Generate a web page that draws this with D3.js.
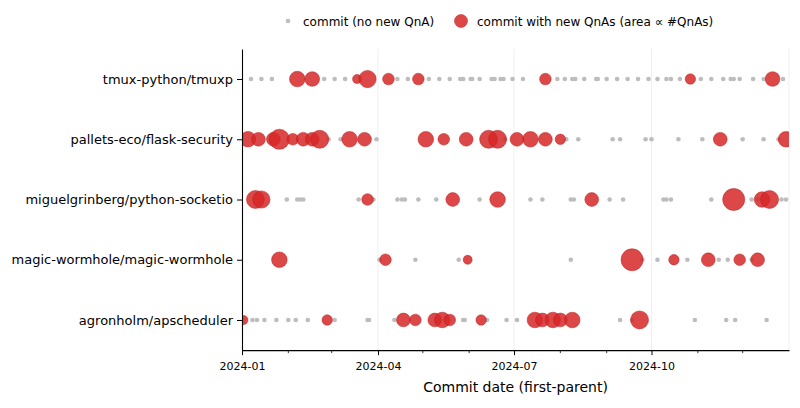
<!DOCTYPE html>
<html>
<head>
<meta charset="utf-8">
<script src="https://cdn.jsdelivr.net/npm/d3@7"></script>
<style>
  body { margin: 0; background: #fff; }
  svg text { font-family: "DejaVu Sans", sans-serif; fill: #000; }
</style>
</head>
<body>
<div class="figure"></div>
<script>
// repos, top to bottom
var repos = [
    "tmux-python/tmuxp",
    "pallets-eco/flask-security",
    "miguelgrinberg/python-socketio",
    "magic-wormhole/magic-wormhole",
    "agronholm/apscheduler"
]

// commits without new QnAs, one list per repo
var plainCommits = [
    ["2024-01-07", "2024-01-14", "2024-01-21", "2024-02-25", "2024-03-03", "2024-03-10",
     "2024-04-14", "2024-04-21", "2024-05-05", "2024-05-12", "2024-05-19", "2024-05-26",
     "2024-05-28", "2024-06-02", "2024-06-03", "2024-06-08", "2024-06-16", "2024-06-18",
     "2024-06-22", "2024-06-24", "2024-06-30", "2024-07-07", "2024-07-30", "2024-08-04",
     "2024-08-09", "2024-08-11", "2024-08-17", "2024-08-25", "2024-08-26", "2024-09-01",
     "2024-09-08", "2024-09-15", "2024-09-22", "2024-09-29", "2024-10-05", "2024-10-11",
     "2024-10-14", "2024-10-20", "2024-11-03", "2024-11-10", "2024-11-18", "2024-11-23",
     "2024-11-25", "2024-11-29", "2024-12-08", "2024-12-15", "2024-12-28"],
    ["2024-02-28", "2024-03-07", "2024-03-31", "2024-06-25", "2024-08-05", "2024-08-13",
     "2024-09-05", "2024-09-10", "2024-09-27", "2024-10-01", "2024-10-19", "2024-11-04",
     "2024-12-01", "2024-12-15", "2024-12-25"],
    ["2024-01-31", "2024-02-07", "2024-02-09", "2024-02-11", "2024-03-19", "2024-03-29",
     "2024-04-14", "2024-04-17", "2024-04-19", "2024-04-28", "2024-05-10", "2024-06-08",
     "2024-07-12", "2024-07-20", "2024-08-08", "2024-08-10", "2024-09-03", "2024-09-12",
     "2024-10-09", "2024-10-11", "2024-10-14", "2024-11-10", "2024-12-07", "2024-12-11",
     "2024-12-27", "2024-12-30"],
    ["2024-04-02", "2024-04-26", "2024-05-25", "2024-08-08", "2024-09-25", "2024-10-05",
     "2024-10-25", "2024-11-15", "2024-11-21", "2024-12-07"],
    ["2024-01-08", "2024-01-11", "2024-01-16", "2024-01-24", "2024-02-01", "2024-02-06",
     "2024-02-14", "2024-03-03", "2024-03-25", "2024-03-26", "2024-04-12", "2024-05-28",
     "2024-05-29", "2024-06-13", "2024-06-26", "2024-07-03", "2024-09-10", "2024-09-18",
     "2024-10-30", "2024-11-20", "2024-11-26", "2024-12-17"]
]

// commits with new QnAs: dates and #QnAs, one list per repo
var qnaDates = [
    ["2024-02-07", "2024-02-17", "2024-03-18", "2024-03-25", "2024-04-08", "2024-04-28",
     "2024-07-22", "2024-10-27", "2024-12-21"],
    ["2024-01-05", "2024-01-12", "2024-01-22", "2024-01-26", "2024-02-04", "2024-02-11",
     "2024-02-17", "2024-02-22", "2024-03-13", "2024-03-23", "2024-05-03", "2024-05-15",
     "2024-05-30", "2024-06-14", "2024-06-20", "2024-07-03", "2024-07-12", "2024-07-22",
     "2024-08-01", "2024-11-16", "2024-12-30"],
    ["2024-01-10", "2024-01-14", "2024-03-25", "2024-05-21", "2024-06-20", "2024-08-22",
     "2024-11-25", "2024-12-14", "2024-12-19"],
    ["2024-01-26", "2024-04-06", "2024-05-31", "2024-09-18", "2024-10-16", "2024-11-08",
     "2024-11-29", "2024-12-11"],
    ["2024-01-02", "2024-02-27", "2024-04-18", "2024-04-26", "2024-05-09", "2024-05-14",
     "2024-05-19", "2024-06-09", "2024-07-15", "2024-07-20", "2024-07-27", "2024-08-01",
     "2024-08-09", "2024-09-23"]
]
var qnaCounts = [
    [9, 8, 3, 11, 5, 5, 5, 4, 8],
    [9, 7, 7, 15, 5, 7, 7, 12, 9, 7, 9, 5, 7, 12, 12, 7, 9, 7, 4, 7, 9],
    [12, 11, 5, 7, 9, 7, 18, 9, 12],
    [9, 5, 3, 18, 4, 7, 5, 7],
    [3, 4, 7, 5, 7, 9, 5, 4, 9, 7, 9, 7, 9, 12]
]

var dateRange = ["2024-01-01", "2025-01-01"]

var parseDate = d3.utcParse("%Y-%m-%d")

var dim = { w: 800, h: 408 }
var margin = { top: 48.9, bottom: 57.9, left: 242, right: 11 }
var w = dim.w - margin.left - margin.right,
    h = dim.h - margin.top - margin.bottom

var svg = d3.select("div.figure")
    .append("svg")
    .attr("width", dim.w)
    .attr("height", dim.h)

var g = svg.append("g")
    .attr("transform", "translate(" + margin.left + "," + margin.top + ")")

var xScale = d3.scaleUtc()
    .domain(dateRange.map(parseDate))
    .range([0, w])

var yScale = d3.scaleLinear()
    .domain([-0.5, repos.length - 0.5])
    .range([0, h])

var rScale = function(n) { return 2.6 * Math.sqrt(n) }

// flatten into point lists
var greyPts = [], redPts = []
repos.forEach(function(repo, i) {
    plainCommits[i].forEach(function(d) {
        greyPts.push({ row: i, date: parseDate(d) })
    })
    qnaDates[i].forEach(function(d, j) {
        redPts.push({ row: i, date: parseDate(d), n: qnaCounts[i][j] })
    })
})

// quarterly grid lines
var quarters = xScale.ticks(d3.utcMonth.every(3))
g.append("g")
    .selectAll("line")
    .data(quarters.slice(1))
    .enter().append("line")
    .attr("x1", function(d) { return xScale(d) })
    .attr("x2", function(d) { return xScale(d) })
    .attr("y1", 0)
    .attr("y2", h)
    .attr("stroke", "#ebebeb")
    .attr("stroke-width", 0.8)

svg.append("defs").append("clipPath")
    .attr("id", "plot-clip")
    .append("rect")
    .attr("width", w)
    .attr("height", h)

var marks = g.append("g").attr("clip-path", "url(#plot-clip)")

marks.append("g")
    .selectAll("circle")
    .data(greyPts)
    .enter().append("circle")
    .attr("cx", function(d) { return xScale(d.date) })
    .attr("cy", function(d) { return yScale(d.row) })
    .attr("r", 2.3)
    .attr("fill", "#bdbdbd")

marks.append("g")
    .selectAll("circle")
    .data(redPts)
    .enter().append("circle")
    .attr("cx", function(d) { return xScale(d.date) })
    .attr("cy", function(d) { return yScale(d.row) })
    .attr("r", function(d) { return rScale(d.n) })
    .attr("fill", "#d62728")
    .attr("fill-opacity", 0.85)
    .attr("stroke", "#b81e20")
    .attr("stroke-width", 0.5)

// x axis: quarterly labels, monthly minor ticks
var xAxis = d3.axisBottom(xScale)
    .tickValues(quarters.slice(0, 4))
    .tickFormat(d3.utcFormat("%Y-%m"))
    .tickSize(5)
    .tickSizeOuter(0)

var xg = g.append("g")
    .attr("transform", "translate(0," + h + ")")
    .style("font-size", "11px")
    .call(xAxis)
xg.selectAll("text").attr("dy", "1.05em").style("font-family", "DejaVu Sans")

g.append("g")
    .attr("transform", "translate(0," + h + ")")
    .selectAll("line")
    .data(xScale.ticks(d3.utcMonth.every(1)).filter(function(d) { return d.getUTCMonth() % 3 != 0 }))
    .enter().append("line")
    .attr("x1", function(d) { return xScale(d) })
    .attr("x2", function(d) { return xScale(d) })
    .attr("y1", 0)
    .attr("y2", 3)
    .attr("stroke", "#000")
    .attr("stroke-width", 0.8)

var yAxis = d3.axisLeft(yScale)
    .tickValues(d3.range(repos.length))
    .tickFormat(function(i) { return repos[i] })
    .tickSize(5)
    .tickSizeOuter(0)

var yg = g.append("g")
    .style("font-size", "13px")
    .call(yAxis)
yg.selectAll("text").attr("x", -9).style("font-family", "DejaVu Sans")

g.selectAll(".domain").attr("stroke-width", 1.1)

g.append("text")
    .attr("x", w / 2)
    .attr("y", h + 42)
    .attr("text-anchor", "middle")
    .style("font-size", "14px")
    .text("Commit date (first-parent)")

// legend
var legend = svg.append("g").style("font-size", "12px")
legend.append("circle")
    .attr("cx", 288).attr("cy", 21).attr("r", 2.3)
    .attr("fill", "#bdbdbd")
legend.append("text")
    .attr("x", 303).attr("y", 25.5)
    .text("commit (no new QnA)")
legend.append("circle")
    .attr("cx", 461).attr("cy", 21).attr("r", 6.5)
    .attr("fill", "#d62728")
    .attr("fill-opacity", 0.85)
    .attr("stroke", "#b81e20")
    .attr("stroke-width", 0.5)
legend.append("text")
    .attr("x", 477).attr("y", 25.5)
    .text("commit with new QnAs (area \u221d #QnAs)")
</script>
</body>
</html>
